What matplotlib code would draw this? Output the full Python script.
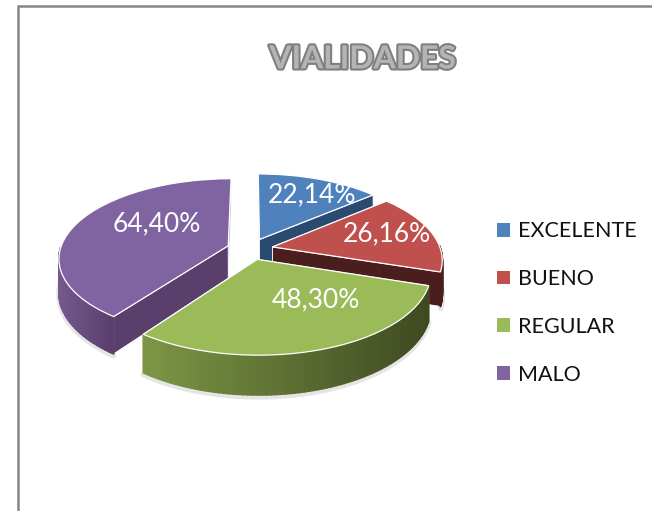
import numpy as np
import matplotlib
matplotlib.use('Agg')
import matplotlib.pyplot as plt
import matplotlib.patheffects as pe
from matplotlib.colors import to_rgb
from matplotlib.transforms import Transform

plt.rcParams['font.family'] = ['Lato', 'DejaVu Sans']

title = 'VIALIDADES'
categories = ['EXCELENTE', 'BUENO', 'REGULAR', 'MALO']
values = [22.14, 26.16, 48.30, 64.40]
value_labels = ['22,14%', '26,16%', '48,30%', '64,40%']

colors = ['#4f81bd', '#c0504d', '#9bbb59', '#8064a2']
side_left = ['#2a4a70', '#4a1e1c', '#7d9646', '#75598f']
side_right = ['#2a4a70', '#4a1e1c', '#3f4a20', '#5a3f6c']
cut_colors = ['#2a4a70', '#4a1e1c', '#3f4a20', '#5a3f6c']
label_pos = [(312, 195), (387, 234), (316, 300), (157, 224)]

# pie plane -> picture pixels, tilted with a bit of perspective
CX, CY = 250, 249
RX, RY = 168, 78
PERSP = 0.15
DEPTH = 33


def project(x, y, z=0):
    s = 1 / (1 + PERSP * np.asarray(y))
    return CX + RX * np.asarray(x) * s, CY - RY * np.asarray(y) * s + DEPTH * z * s


class TiltTransform(Transform):
    input_dims = 2
    output_dims = 2
    is_separable = False
    has_inverse = False

    def transform_non_affine(self, values):
        px, py = project(values[:, 0], values[:, 1])
        return np.column_stack([px, py])


fig = plt.figure(figsize=(6.52, 5.11), dpi=100)
ax = fig.add_axes([0, 0, 1, 1])

wedges, _ = ax.pie(values, explode=[0.137] * 4, startangle=90, counterclock=False,
                   colors=colors, wedgeprops={'edgecolor': 'white', 'linewidth': 0.9})

ax.set_aspect('auto')
ax.set_xlim(0, 652)
ax.set_ylim(511, 0)
ax.set_axis_off()

# chart border, only top and left show in the crop
ax.plot([17.5, 17.5, 652], [511, 6, 6], color='#868686', lw=1.8, solid_joinstyle='miter', zorder=1)

tilt = TiltTransform()
draw_order = [0, 1, 3, 2]
for n, i in enumerate(draw_order):
    w = wedges[i]
    base = 10 + n * 10
    cx, cy = w.center

    # soft shadow under the front rim
    t = np.radians(np.linspace(w.theta1, w.theta2, 80))
    rim_x = cx + np.cos(t)
    rim_y = cy + np.sin(t)
    front = rim_y < 0.05
    if front.any():
        sx, sy = project(rim_x[front], rim_y[front], 1.05)
        ax.plot(sx, sy, color='#000000', alpha=0.10, lw=4, zorder=base, solid_capstyle='round')

    # the two cut faces
    for a in sorted([w.theta1, w.theta2], key=lambda d: -np.sin(np.radians(d))):
        ex, ey = cx + np.cos(np.radians(a)), cy + np.sin(np.radians(a))
        x0, y0 = project(cx, cy)
        x1, y1 = project(ex, ey)
        x2, y2 = project(ex, ey, 1)
        x3, y3 = project(cx, cy, 1)
        ax.fill([x0, x1, x2, x3], [y0, y1, y2, y3], facecolor=cut_colors[i],
                edgecolor='white', lw=0.6, zorder=base + 1)

    # outer rim, strips so it can carry the gradient
    if front.sum() > 1:
        fx = rim_x[front]
        fy = rim_y[front]
        tx, ty = project(fx, fy)
        bx, by = project(fx, fy, 1)
        c0 = np.array(to_rgb(side_left[i]))
        c1 = np.array(to_rgb(side_right[i]))
        xmin, xmax = tx.min(), tx.max()
        for k in range(len(fx) - 1):
            f = ((tx[k] + tx[k + 1]) / 2 - xmin) / max(xmax - xmin, 1)
            c = c0 + (c1 - c0) * f
            ax.fill([tx[k], tx[k + 1], bx[k + 1], bx[k]], [ty[k], ty[k + 1], by[k + 1], by[k]],
                    facecolor=c, edgecolor=c, lw=1.3, joinstyle='round', zorder=base + 2)

    w.set_transform(tilt + ax.transData)
    w.set_clip_on(False)
    w.set_zorder(base + 3)

for lab, pos in zip(value_labels, label_pos):
    ax.text(pos[0], pos[1], lab, color='white', fontsize=19, ha='center', va='center', zorder=100)

ax.text(363, 59, title, fontsize=23, fontweight='bold', color='#b4b4b4', ha='center', va='center',
        path_effects=[pe.withStroke(linewidth=3, foreground='#7f7f7f')], zorder=100)

leg = ax.legend(wedges, categories, loc='center left', bbox_to_anchor=(497, 303),
                bbox_transform=ax.transData, frameon=False, fontsize=15.5,
                handlelength=0.6, handleheight=0.6, handletextpad=0.38,
                labelspacing=1.29, borderpad=0, borderaxespad=0)
for h in leg.get_patches():
    h.set_edgecolor('none')
for txt in leg.get_texts():
    txt.set_color('#111111')

fig.savefig('out.png', dpi=100)
